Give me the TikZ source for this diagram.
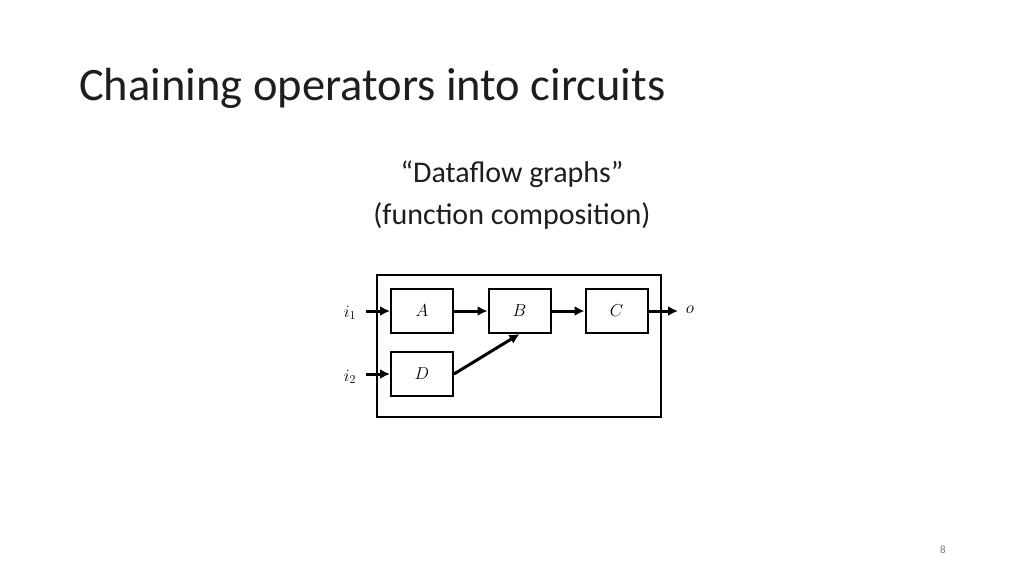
\documentclass[tikz,border=0pt]{standalone}
\usepackage{fontspec}
\setmainfont{Carlito}
\usetikzlibrary{arrows.meta,positioning}
\definecolor{DfBlack}{RGB}{0,0,0}
\definecolor{DfTitle}{RGB}{30,30,30}
\definecolor{DfGray}{RGB}{120,120,120}
\tikzset{
  df/outer/.style={
    draw=DfBlack,
    line width=2pt,
    minimum width=284pt,
    minimum height=142pt,
    inner sep=0pt
  },
  df/box/.style={
    draw=DfBlack,
    line width=2pt,
    minimum width=62pt,
    minimum height=44pt,
    inner sep=0pt,
    font=\fontsize{18}{21}\selectfont
  },
  df/arrow/.style={-{Latex[length=10pt,width=10pt]}, line width=3pt, draw=DfBlack},
  df/port/.style={font=\fontsize{18}{21}\selectfont, inner sep=0pt},
  df/title/.style={font=\fontsize{46.5}{54}\selectfont, text=DfTitle, anchor=base west, inner sep=0pt},
  df/subtitle/.style={font=\fontsize{30}{36}\selectfont, text=DfTitle, anchor=base, inner sep=0pt}
}
\begin{document}
\begin{tikzpicture}[x=1pt,y=-1pt]
  \useasboundingbox (0,0) rectangle (1024,576);
  \node[df/title] (title) at (79,100) {Chaining operators into circuits};
  \node[df/subtitle] (sub1) at (512,182) {“Dataflow graphs”};
  \node[df/subtitle] (sub2) at (512,224) {(function composition)};

  \node[df/outer] (circuit) at (519,345.5) {};
  \node[df/box] (A) at (422,311) {$A$};
  \node[df/box] (B) at (519.5,311) {$B$};
  \node[df/box] (C) at (616.5,311) {$C$};
  \node[df/box] (D) at (422,374) {$D$};

  \node[df/port] (i1) at (350,313) {$i_1$};
  \node[df/port] (i2) at (350,377) {$i_2$};
  \node[df/port] (o) at (690,310) {$o$};
  \coordinate (in1) at (366,311);
  \coordinate (in2) at (366,374);
  \coordinate (out) at (678,311);

  \draw[df/arrow] (in1) -- (A);
  \draw[df/arrow] (in2) -- (D);
  \draw[df/arrow] (A) -- (B);
  \draw[df/arrow] (B) -- (C);
  \draw[df/arrow] (D.east) -- (B.south);
  \draw[df/arrow] (C) -- (out);

  \node[font=\fontsize{11}{13}\selectfont, text=DfGray] (page) at (943,550) {8};
\end{tikzpicture}
\end{document}
